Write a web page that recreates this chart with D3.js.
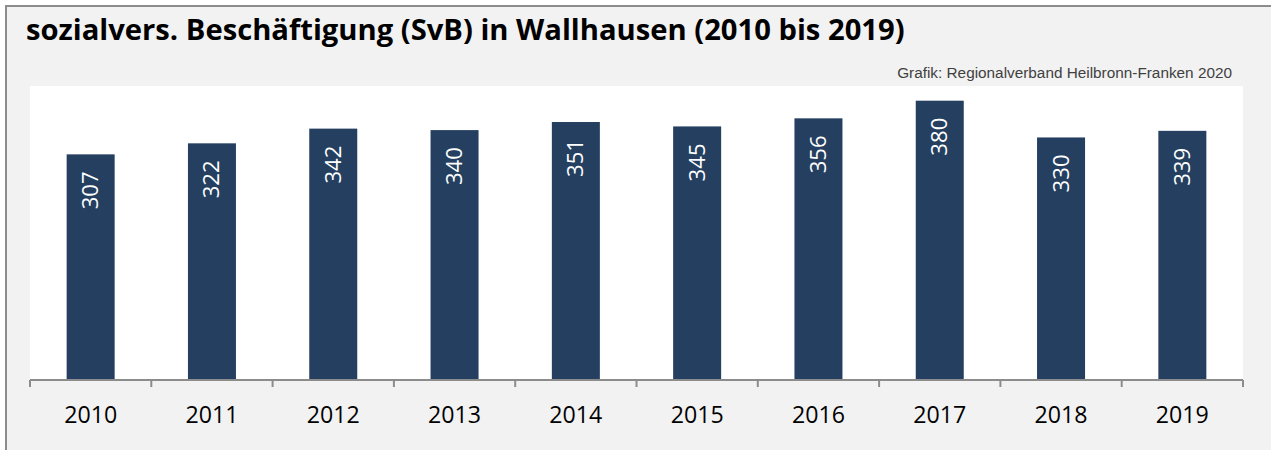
<!DOCTYPE html>
<html><head><meta charset="utf-8">
<script src="https://cdn.jsdelivr.net/npm/d3@7/dist/d3.min.js"></script>
<style>html,body{margin:0;padding:0;background:#fff;}</style>
</head><body>
<svg id="c" width="1271" height="450"></svg>
<script>
const years = ["2010","2011","2012","2013","2014","2015","2016","2017","2018","2019"];
const values = [307,322,342,340,351,345,356,380,330,339];
const titleText = "sozialvers. Beschäftigung (SvB) in Wallhausen (2010 bis 2019)";
const sourceText = "Grafik: Regionalverband Heilbronn-Franken 2020";

const svg = d3.select("#c");
svg.append("rect").attr("x",6).attr("y",6).attr("width",1280).attr("height",460)
  .attr("fill","#f2f2f2").attr("stroke","#8c8c8c").attr("stroke-width",2);

const plot = {left:30, right:1243, top:86, bottom:380};
svg.append("rect").attr("x",plot.left).attr("y",plot.top)
  .attr("width",plot.right-plot.left).attr("height",plot.bottom-plot.top).attr("fill","#fff");

const xc = d3.scaleBand().domain(years).range([plot.left,plot.right]);
const y = d3.scaleLinear().domain([0,400]).range([plot.bottom,plot.top]);

svg.append("g").selectAll("rect").data(values).join("rect")
  .attr("x",(d,i)=>xc(years[i])+xc.bandwidth()/2-24)
  .attr("width",48)
  .attr("y",d=>y(d)).attr("height",d=>y(0)-y(d))
  .attr("fill","#243f60");

const fontMain = "'Open Sans', 'Noto Sans', sans-serif";

// labels
const lbl = svg.append("g").selectAll("text").data(values).join("text")
  .attr("transform",(d,i)=>`translate(${xc(years[i])+xc.bandwidth()/2+7.5},${y(d)+17}) rotate(-90)`)
  .attr("text-anchor","end")
  .attr("font-family",fontMain)
  .attr("font-size",20)
  .attr("fill","#fff")
  .text(d=>d);
let lw = lbl.nodes()[0].getComputedTextLength();
lbl.attr("font-size",20*38/lw);

// axis
const gAx = svg.append("g").attr("transform",`translate(0,${plot.bottom})`);
gAx.append("line").attr("x1",plot.left).attr("x2",plot.right).attr("y1",0).attr("y2",0)
  .attr("stroke","#8c8c8c").attr("stroke-width",2);
const tickPos = years.map(yy=>xc(yy)).concat([plot.right]);
gAx.selectAll("line.t").data(tickPos).join("line").attr("class","t")
  .attr("x1",d=>d).attr("x2",d=>d).attr("y1",0).attr("y2",7)
  .attr("stroke","#8c8c8c").attr("stroke-width",2);
const yl = gAx.selectAll("text.yl").data(years).join("text").attr("class","yl")
  .attr("x",d=>xc(d)+xc.bandwidth()/2).attr("y",43)
  .attr("text-anchor","middle")
  .attr("font-family",fontMain)
  .attr("font-size",21).attr("fill","#000")
  .text(d=>d);
let yw = yl.nodes()[0].getComputedTextLength();
yl.attr("font-size",21*53/yw);

// title
const t = svg.append("text").attr("x",26).attr("y",40)
  .attr("font-family",fontMain).attr("font-weight","bold")
  .attr("font-size",28).attr("fill","#000").text(titleText);
let w = t.node().getComputedTextLength();
t.attr("font-size",28*879/w);

const s = svg.append("text").attr("x",1232).attr("y",78).attr("text-anchor","end")
  .attr("font-family","'Liberation Sans', Arial, sans-serif")
  .attr("font-size",13).attr("fill","#404040").text(sourceText);
w = s.node().getComputedTextLength();
s.attr("font-size",13*335/w);
</script>
</body></html>
